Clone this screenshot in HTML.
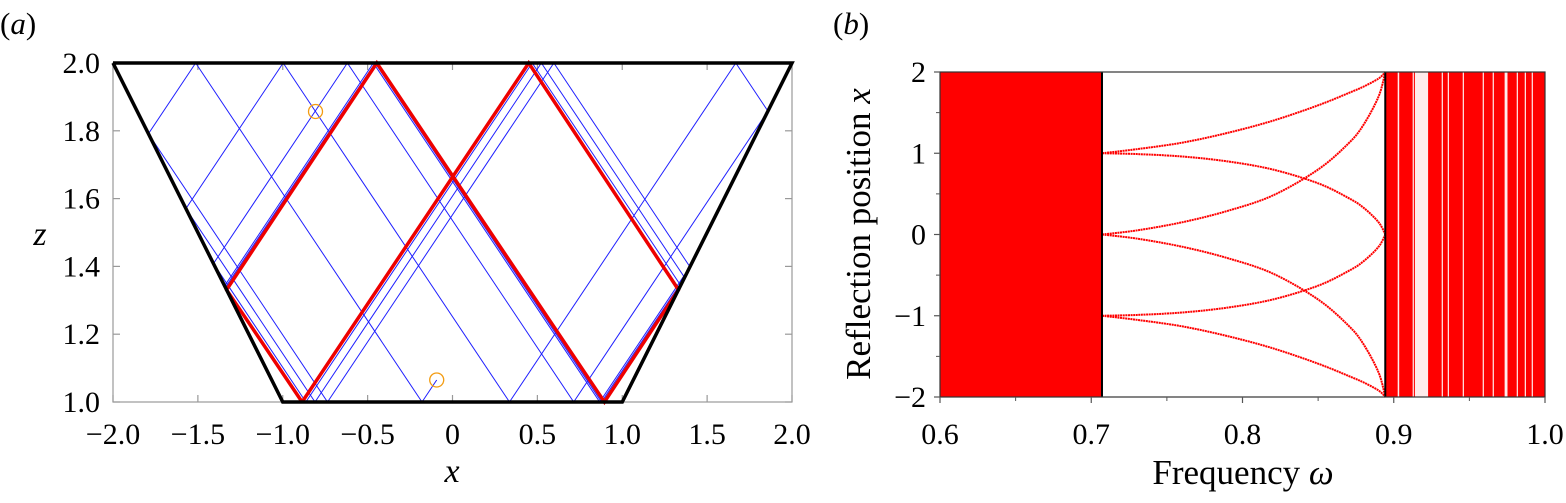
<!DOCTYPE html>
<html><head><meta charset="utf-8">
<style>
html,body{margin:0;padding:0;background:#fff;}
svg{display:block;}
text,tspan{font-family:"Liberation Serif","Times New Roman","DejaVu Serif",serif !important;}
</style></head>
<body>
<svg id="fig" width="1566" height="503" viewBox="0 0 1566 503" xmlns="http://www.w3.org/2000/svg">
<text x="0" y="34" font-size="31">(<tspan font-style="italic">a</tspan>)</text>
<text x="833" y="34" font-size="31">(<tspan font-style="italic">b</tspan>)</text>
<g id="pa"></g>
<g id="pb"></g>
</svg>
<script>
// ---------- Panel (a) data ----------
const slopeA = 0.75;
const attractorX = [-0.886, 0.449, 1.331, 0.895, -0.446, -1.331, -0.886];
const attractorZ = [1, 2, 1.331, 1, 2, 1.331, 1];
const startX = [-0.093, -0.807, -0.807];
const startZ = [1.065, 1.857, 1.857];
const startDx = [-1, 1, -1];
const startDz = [-1, -1, 1];
const bounces = [14, 14, 10];
const circleX = [-0.807, -0.093];
const circleZ = [1.857, 1.065];
const xTicksA = [-2,-1.5,-1,-0.5,0,0.5,1,1.5,2];
const xTickLabelsA = ["\u22122.0","\u22121.5","\u22121.0","\u22120.5","0","0.5","1.0","1.5","2.0"];
const zTicksA = [1,1.2,1.4,1.6,1.8,2];
const zTickLabelsA = ["1.0","1.2","1.4","1.6","1.8","2.0"];

// ---------- Panel (b) data ----------
const omegaGrid = [0.7071,0.73,0.76,0.79,0.82,0.85,0.87,0.88,0.89,0.8944];
const branch1 = [1.0,1.05,1.13,1.25,1.4,1.59,1.74,1.82,1.92,2.0];
const branch2 = [1.0,0.99,0.96,0.9,0.8,0.63,0.45,0.33,0.15,0.0];
const branch3 = [0.0,0.05,0.15,0.29,0.48,0.8,1.12,1.35,1.7,2.0];
const branch4 = [0.0,-0.05,-0.15,-0.29,-0.48,-0.8,-1.12,-1.35,-1.7,-2.0];
const branch5 = [-1.0,-0.99,-0.96,-0.9,-0.8,-0.63,-0.45,-0.33,-0.15,0.0];
const branch6 = [-1.0,-1.05,-1.13,-1.25,-1.4,-1.59,-1.74,-1.82,-1.92,-2.0];
const chaosBands = [[0.6,0.7071],[0.8944,1.0]];
const boundaryOmega = [0.7071,0.8944];
const gapStart = [0.9026,0.9125,0.914,0.9317,0.9357,0.9456,0.9588,0.9654,0.9733,0.9813,0.9866,0.9912];
const gapEnd   = [0.9036,0.9133,0.9227,0.9325,0.9365,0.9464,0.9596,0.9662,0.9752,0.9821,0.9874,0.9920];
const xTicksB = [0.6,0.7,0.8,0.9,1.0];
const xTickLabelsB = ["0.6","0.7","0.8","0.9","1.0"];
const xMinorB = [0.65,0.75,0.85,0.95];
const yTicksB = [-2,-1,0,1,2];
const yTickLabelsB = ["\u22122","\u22121","0","1","2"];
const yMinorB = [-1.5,-0.5,0.5,1.5];

const NS="http://www.w3.org/2000/svg";
function mk(parent,tag,attrs){const e=document.createElementNS(NS,tag);for(const k in attrs)e.setAttribute(k,attrs[k]);parent.appendChild(e);return e;}

const AX0=113, AX1=792, AZ0=402, AZ1=63;
function X(x){return AX0+(x+2)/4*(AX1-AX0);}
function Z(z){return AZ0-(z-1)*(AZ0-AZ1);}
const BX0=940, BX1=1545, BY0=397, BY1=72;
function W(w){return BX0+(w-0.6)/0.4*(BX1-BX0);}
function Y(v){return BY0-(v+2)/4*(BY0-BY1);}

// ----- Panel (a) -----
const pa=document.getElementById('pa');
let r=mk(pa,'rect',{x:AX0,y:AZ1,width:AX1-AX0,height:AZ0-AZ1,fill:'none',stroke:'#999','stroke-width':1.2});


xTicksA.forEach((t,i)=>{
  const l1=mk(pa,'line',{x1:X(t),x2:X(t),y1:AZ0,y2:AZ0-7,stroke:'#999','stroke-width':1.2});
  
  
  const l2=mk(pa,'line',{x1:X(t),x2:X(t),y1:AZ1,y2:AZ1+7,stroke:'#999','stroke-width':1.2});
  
  
  const tx=mk(pa,'text',{x:X(t),y:444,'font-size':30,'text-anchor':'middle'});
  tx.textContent=xTickLabelsA[i];
  
  
});
zTicksA.forEach((t,i)=>{
  const l1=mk(pa,'line',{x1:AX0,x2:AX0+7,y1:Z(t),y2:Z(t),stroke:'#999','stroke-width':1.2});
  
  
  const l2=mk(pa,'line',{x1:AX1,x2:AX1-7,y1:Z(t),y2:Z(t),stroke:'#999','stroke-width':1.2});
  
  
  const tx=mk(pa,'text',{x:100,y:Z(t)+10,'font-size':30,'text-anchor':'end'});
  tx.textContent=zTickLabelsA[i];
  
  
});
let t1=mk(pa,'text',{x:40,y:245,'font-size':34,'font-style':'italic','text-anchor':'middle'});
t1.textContent='z';


let t2=mk(pa,'text',{x:452,y:482,'font-size':34,'font-style':'italic','text-anchor':'middle'});
t2.textContent='x';



function trace(x,z,dx,dz,n){
  const pts=[[x,z]];
  for(let k=0;k<n;k++){
    let best=Infinity, hit=null;
    const vx=dx, vz=dz*slopeA;
    if(vz>0){const t=(2-z)/vz; if(t>1e-9&&t<best){best=t;hit='h';}}
    if(vz<0){const t=(1-z)/vz; if(t>1e-9&&t<best){best=t;hit='h';}}
    {const den=vx-vz; if(Math.abs(den)>1e-12){const t=(z-x)/den; if(t>1e-9&&t<best){best=t;hit='w';}}}
    {const den=vx+vz; if(Math.abs(den)>1e-12){const t=(-z-x)/den; if(t>1e-9&&t<best){best=t;hit='w';}}}
    if(!hit)break;
    x+=vx*best; z+=vz*best;
    pts.push([x,z]);
    if(hit==='h')dz=-dz; else dx=-dx;
  }
  return pts;
}
startX.forEach((sx,i)=>{
  const pts=trace(sx,startZ[i],startDx[i],startDz[i],bounces[i]);
  const pl=mk(pa,'polyline',{points:pts.map(p=>X(p[0]).toFixed(2)+','+Z(p[1]).toFixed(2)).join(' '),fill:'none',stroke:'#2020ff','stroke-width':1});
  
  
});
let att=mk(pa,'polyline',{points:attractorX.map((x,i)=>X(x).toFixed(2)+','+Z(attractorZ[i]).toFixed(2)).join(' '),fill:'none',stroke:'#ee0000','stroke-width':3.5});


let dom=mk(pa,'polyline',{points:[[-2,2],[2,2],[1,1],[-1,1],[-2,2]].map(p=>X(p[0]).toFixed(2)+','+Z(p[1]).toFixed(2)).join(' '),fill:'none',stroke:'#000','stroke-width':3.5});


circleX.forEach((cx,i)=>{
  const c=mk(pa,'circle',{cx:X(cx),cy:Z(circleZ[i]),r:7,fill:'none',stroke:'#f39c12','stroke-width':1.3});
  
  
});

// ----- Panel (b) -----
const pb=document.getElementById('pb');
chaosBands.forEach(b=>{
  const rc=mk(pb,'rect',{x:W(b[0]),y:BY1,width:W(b[1])-W(b[0]),height:BY0-BY1,fill:'#ff0000'});
  
  
});
gapStart.forEach((g,i)=>{
  const rc=mk(pb,'rect',{x:W(g),y:BY1,width:Math.max(0.8,W(gapEnd[i])-W(g)),height:BY0-BY1,fill:'#fff','fill-opacity':0.92});
  
  
});
[branch1,branch2,branch3,branch4,branch5,branch6].forEach((br,i)=>{
  const P=omegaGrid.map((w,k)=>[W(w),Y(br[k])]);
  let d='M'+P[0][0].toFixed(2)+','+P[0][1].toFixed(2);
  for(let k=0;k<P.length-1;k++){
    const p0=P[Math.max(0,k-1)],p1=P[k],p2=P[k+1],p3=P[Math.min(P.length-1,k+2)];
    const c1=[p1[0]+(p2[0]-p0[0])/6,p1[1]+(p2[1]-p0[1])/6];
    const c2=[p2[0]-(p3[0]-p1[0])/6,p2[1]-(p3[1]-p1[1])/6];
    d+=' C'+c1.map(v=>v.toFixed(2)).join(',')+' '+c2.map(v=>v.toFixed(2)).join(',')+' '+p2[0].toFixed(2)+','+p2[1].toFixed(2);
  }
  const pth=mk(pb,'path',{d:d,fill:'none',stroke:'#ff0000','stroke-width':2,'stroke-dasharray':'2 0.6'});
  
  
});
boundaryOmega.forEach(w=>{
  const l=mk(pb,'line',{x1:W(w),x2:W(w),y1:BY1,y2:BY0,stroke:'#000','stroke-width':2});
  
  
});
let rb=mk(pb,'rect',{x:BX0,y:BY1,width:BX1-BX0,height:BY0-BY1,fill:'none',stroke:'#333','stroke-width':1.2});


xTicksB.forEach((t,i)=>{
  const l=mk(pb,'line',{x1:W(t),x2:W(t),y1:BY0,y2:BY0+6,stroke:'#555','stroke-width':1.2});
  
  
  const tx=mk(pb,'text',{x:W(t),y:444,'font-size':30,'text-anchor':'middle'});
  tx.textContent=xTickLabelsB[i];
  
  
});
xMinorB.forEach(t=>{
  const l=mk(pb,'line',{x1:W(t),x2:W(t),y1:BY0,y2:BY0+4,stroke:'#555','stroke-width':1});
  
  
});
yTicksB.forEach((t,i)=>{
  const l=mk(pb,'line',{x1:BX0-6,x2:BX0,y1:Y(t),y2:Y(t),stroke:'#555','stroke-width':1.2});
  
  
  const tx=mk(pb,'text',{x:926,y:Y(t)+10,'font-size':30,'text-anchor':'end'});
  tx.textContent=yTickLabelsB[i];
  
  
});
yMinorB.forEach(t=>{
  const l=mk(pb,'line',{x1:BX0-4,x2:BX0,y1:Y(t),y2:Y(t),stroke:'#555','stroke-width':1});
  
  
});
let yt=mk(pb,'text',{x:0,y:0,'font-size':35,'text-anchor':'middle',transform:'translate(870,234) rotate(-90)'});
yt.innerHTML='Reflection position <tspan font-style="italic">x</tspan>';


let xt=mk(pb,'text',{x:1243,y:484,'font-size':35,'text-anchor':'middle'});
xt.innerHTML='Frequency <tspan font-style="italic">ω</tspan>';


</script>
</body></html>
